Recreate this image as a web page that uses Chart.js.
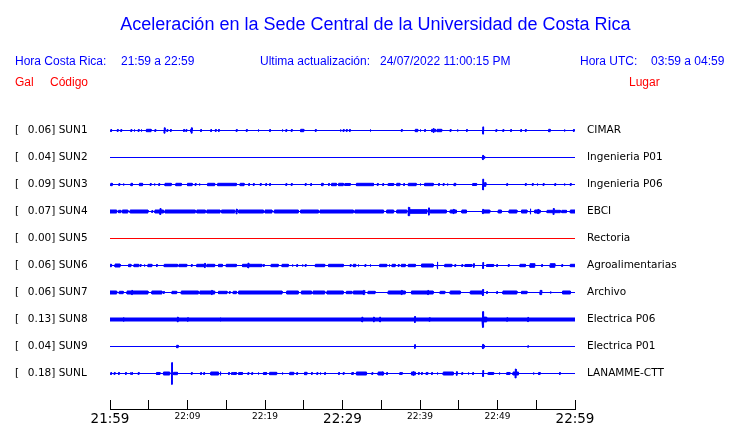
<!DOCTYPE html>
<html><head><meta charset="utf-8">
<script src="https://cdn.jsdelivr.net/npm/chart.js@4.4.0/dist/chart.umd.min.js"></script>
<style>
html,body{margin:0;padding:0;background:#fff;overflow:hidden}
#wrap{position:relative;width:740px;height:423px}
#c{position:absolute;left:0;top:0}
.t{position:absolute;white-space:pre;font-family:"Liberation Sans",Arial,sans-serif;font-size:12px;line-height:14px;color:#0000ff}
.red{color:#ff0000}
#title{left:0;width:751px;text-align:center;top:14px;font-size:18px;line-height:20px}
</style></head>
<body>
<div id="wrap">
<canvas id="c" width="740" height="423"></canvas>
<div class="t" id="title">Aceleración en la Sede Central de la Universidad de Costa Rica</div>
<div class="t" style="left:15px;top:54px">Hora Costa Rica:</div>
<div class="t" style="left:121px;top:54px">21:59 a 22:59</div>
<div class="t" style="left:260px;top:54px">Ultima actualización:</div>
<div class="t" style="left:380px;top:54px">24/07/2022 11:00:15 PM</div>
<div class="t" style="left:580px;top:54px">Hora UTC:</div>
<div class="t" style="left:651px;top:54px">03:59 a 04:59</div>
<div class="t red" style="left:15px;top:75px">Gal</div>
<div class="t red" style="left:50px;top:75px">Código</div>
<div class="t red" style="left:629px;top:75px">Lugar</div>
</div>
<script>
// ---- data ----
const codes = ['SUN1','SUN2','SUN3','SUN4','SUN5','SUN6','SUN7','SUN8','SUN9','SUNL'];
const places = ['CIMAR','Ingenieria P01','Ingenieria P06','EBCI','Rectoria','Agroalimentarias','Archivo','Electrica P06','Electrica P01','LANAMME-CTT'];
const peaks = [0.06,0.04,0.09,0.07,0.00,0.06,0.06,0.13,0.04,0.18]; // Gal
const timeLabels = ['21:59','22:09','22:19','22:29','22:39','22:49','22:59']; // every 10 min
// activity per trace: [minute, amplitude Gal] (short burst) or [start min, end min, amplitude Gal]
const SUN1 = [[0.1,.017],[0.95,.017],[1.4,.017],[2.7,.017],[3.1,.017],[3.65,.017],[4.0,.017],[4.7,5.3,.02],[5.8,.017],[7.0,.045],[7.35,.017],[7.8,.017],[9.5,.017],[9.8,.017],[10.4,10.6,.02],[10.5,.045],[11.7,.017],[13.0,.017],[13.6,.017],[14.0,.017],[16.3,.017],[17.6,.017],[19.1,.017],[20.6,.017],[22.2,.017],[22.7,.017],[23.4,.017],[24.6,25.0,.02],[26.5,.017],[29.7,.017],[30.1,.017],[30.5,.017],[30.9,.017],[33.55,.017],[37.6,.017],[39.4,39.7,.02],[40.0,.017],[40.6,.017],[41.5,42.0,.02],[41.7,.04],[42.2,42.8,.02],[43.9,.017],[44.8,.017],[46.0,.017],[48.1,.06],[49.8,.017],[50.7,.017],[51.7,.017],[53.0,.017],[53.6,.017],[56.6,56.8,.02],[58.6,.017],[59.8,.017]];
const SUN2 = [[48.0,48.35,.015],[48.1,.035]];
const SUN3 = [[0.1,0.3,.02],[1.15,.017],[1.7,.017],[2.7,2.9,.02],[3.8,4.2,.02],[5.2,.017],[5.7,.017],[6.3,.017],[7.1,7.9,.02],[8.5,9.2,.02],[10.0,10.6,.02],[11.0,.017],[11.5,.017],[12.6,13.5,.02],[13.9,16.3,.02],[16.8,17.3,.02],[17.9,.017],[18.5,.017],[19.4,.017],[20.1,.017],[20.6,.017],[22.7,.017],[23.4,.017],[25.2,.017],[25.9,.017],[27.3,27.5,.02],[28.2,.017],[28.6,29.2,.02],[29.5,30.1,.02],[30.3,31.0,.017],[31.8,34.0,.02],[34.5,.017],[35.2,.017],[35.9,36.6,.017],[37.0,37.4,.02],[37.9,.017],[38.5,39.5,.02],[40.0,.017],[40.6,41.7,.02],[42.4,.017],[43.0,.017],[43.5,.017],[44.4,44.6,.02],[46.8,47.3,.017],[48.1,.09],[48.3,48.5,.03],[51.2,.017],[53.6,.017],[54.5,.017],[55.1,.017],[55.9,.017],[57.4,.017],[58.6,.017],[59.4,.017]];
const SUN4 = [[0,0.86,.025],[1.1,1.4,.02],[1.6,2.3,.025],[2.6,4.9,.025],[5.4,.017],[5.8,6.9,.025],[6.45,.05],[7.1,11.0,.025],[11.2,12.3,.025],[12.5,14.2,.025],[14.4,16.1,.025],[16.3,.04],[16.6,19.8,.025],[20.0,20.9,.025],[21.2,24.3,.025],[24.6,26.9,.025],[27.1,31.4,.025],[31.6,35.3,.025],[35.7,36.6,.025],[37.0,38.3,.025],[38.5,.07],[38.7,40.9,.03],[41.1,.06],[41.3,43.4,.025],[43.9,44.7,.025],[44.3,.035],[45.4,46.0,.025],[48.0,49.0,.025],[48.1,.035],[50.1,50.5,.025],[51.5,52.5,.025],[53.1,53.8,.025],[54.2,.045],[54.8,55.5,.025],[55.2,.035],[56.4,58.1,.02],[57.2,.05],[58.3,58.9,.02],[59.4,60,.025]];
const SUN5 = [];
const SUN6 = [[0,0.2,.02],[0.65,1.3,.025],[2.4,2.7,.02],[3.1,3.7,.02],[3.9,.017],[4.4,.017],[4.9,5.4,.02],[6.0,.017],[7.0,8.7,.02],[8.9,9.9,.02],[10.5,.017],[11.2,12.3,.02],[12.2,.035],[12.5,13.5,.02],[14.0,14.5,.02],[15.0,16.3,.02],[17.1,19.6,.02],[17.8,.04],[19.8,.017],[20.8,21.7,.02],[22.2,23.0,.02],[23.5,.017],[24.1,.017],[24.8,.017],[25.2,.017],[26.5,27.7,.02],[28.2,30.1,.02],[31.0,.017],[31.4,31.7,.02],[32.0,.017],[32.9,.017],[33.55,.017],[34.8,35.7,.02],[36.0,.017],[36.4,36.8,.02],[37.2,.017],[37.6,38.1,.02],[38.5,39.4,.02],[40.2,41.7,.025],[42.2,.06],[43.2,44.1,.02],[44.5,.017],[45.4,.017],[45.8,46.7,.017],[46.9,.03],[48.1,.05],[48.6,49.5,.017],[49.9,.017],[51.4,.017],[52.9,53.6,.02],[54.2,54.8,.03],[55.7,.017],[56.8,57.4,.03],[58.3,.017],[59.4,60,.02]];
const SUN7 = [[0,0.86,.025],[1.2,1.7,.02],[2.2,4.9,.025],[2.8,.035],[5.4,6.7,.025],[6.9,.017],[8.0,8.6,.02],[9.2,11.4,.025],[11.6,13.5,.025],[13.1,.035],[14.0,15.1,.02],[15.4,.017],[15.9,16.3,.02],[16.6,22.2,.025],[22.8,24.3,.025],[24.7,26.0,.025],[26.2,27.7,.025],[28.0,30.1,.025],[30.5,31.2,.02],[31.4,32.9,.025],[32.7,.035],[33.3,34.2,.02],[35.9,38.1,.025],[37.6,.035],[38.9,41.7,.025],[41.0,.035],[42.6,43.2,.02],[43.9,45.2,.025],[46.5,48.0,.025],[48.1,.05],[48.6,.017],[49.9,.017],[50.7,52.5,.025],[53.1,53.8,.02],[55.5,55.7,.035],[56.8,.017],[58.4,59.4,.025]];
const SUN8 = [[0,60,.025],[1.7,.035],[8.7,.04],[10.0,.03],[14.2,.03],[32.5,.04],[34.0,.04],[34.8,.04],[39.3,.05],[41.2,.03],[48.0,48.6,.04],[48.1,.13],[51.2,.03],[53.9,.035]];
const SUN9 = [[8.6,8.8,.02],[39.3,.03],[48.0,48.3,.02],[48.1,.035],[53.9,.012]];
const SUNL = [[0.1,.017],[0.55,.017],[1.1,.017],[2.0,.017],[2.6,.017],[2.8,.017],[3.65,.017],[6.0,6.45,.017],[6.9,7.7,.025],[7.95,.18],[8.2,8.7,.02],[10.5,.017],[11.7,.017],[12.1,.017],[13.0,14.0,.025],[14.2,.03],[15.3,.017],[15.7,.017],[15.9,16.3,.017],[16.6,17.1,.017],[17.8,.017],[18.3,.017],[19.1,.017],[19.8,20.2,.017],[20.6,21.5,.02],[22.2,.017],[23.2,23.7,.02],[24.1,.017],[25.1,25.4,.02],[26.0,.017],[26.7,.017],[27.1,.017],[27.7,.017],[29.5,.017],[30.1,.017],[31.2,31.4,.017],[31.8,33.1,.025],[33.8,.017],[34.6,35.3,.025],[35.1,.03],[35.7,.017],[37.4,.017],[37.6,.017],[38.9,39.4,.025],[39.1,.035],[39.8,.017],[40.2,.017],[40.8,41.0,.017],[41.5,.017],[42.2,.017],[43.0,44.3,.025],[44.7,.03],[45.4,.017],[46.2,.017],[46.8,.017],[48.1,.05],[48.8,49.5,.017],[50.2,.017],[51.2,51.6,.017],[52.0,52.7,.025],[52.3,.075],[54.6,.017],[55.3,55.5,.017],[58.0,.017]];
const traces = [SUN1,SUN2,SUN3,SUN4,SUN5,SUN6,SUN7,SUN8,SUN9,SUNL];

// ---- build ----
const SPAN = 60, ROW = 0.45, BURST = 0.1;
function envelope(list){
  const ps = list.map(p => p.length === 2 ? [p[0], p[0] + BURST, p[1]] : p);
  const set = new Set([0, SPAN]);
  ps.forEach(p => { set.add(p[0]); set.add(p[1]); });
  const xs = [...set].sort((a,b)=>a-b);
  const out = []; let prev = null;
  for (let j = 0; j < xs.length - 1; j++) {
    const m = (xs[j] + xs[j+1]) / 2;
    let a = 0;
    for (const p of ps) if (p[0] <= m && m < p[1]) a = Math.max(a, p[2]);
    if (a !== prev) { if (prev !== null) out.push([xs[j], prev]); out.push([xs[j], a]); prev = a; }
  }
  out.push([SPAN, prev]);
  return out;
}
const datasets = [];
traces.forEach((tr, i) => {
  const base = ROW * (i + 1);
  const col = peaks[i] === 0 ? '#ff0000' : '#0000ff';
  const env = envelope(tr);
  datasets.push({
    data: env.map(([x, a]) => ({x, y: base - a})),
    borderColor: col, backgroundColor: col, borderWidth: 1,
    pointRadius: 0, tension: 0, fill: '+1', yAxisID: 'y'
  });
  datasets.push({
    data: env.map(([x, a]) => ({x, y: base + a})),
    borderColor: col, backgroundColor: col, borderWidth: 1,
    pointRadius: 0, tension: 0, fill: false, yAxisID: 'y'
  });
});
const rowTicks = s => { s.ticks = codes.map((_, i) => ({value: ROW * (i + 1)})); };
const yBase = {type:'linear', reverse:true, min:-1/120, max:5.1 - 1/120, border:{display:false}};
new Chart(document.getElementById('c'), {
  type: 'line',
  data: {datasets},
  options: {
    responsive:false, animation:false, devicePixelRatio:1,
    layout:{padding:{top:103, left:15, right:0, bottom:0}},
    plugins:{legend:{display:false}, tooltip:{enabled:false}},
    scales:{
      x:{type:'linear', position:'bottom', min:0, max:SPAN,
         grid:{drawOnChartArea:false, drawTicks:true, tickLength:-9, color:'#000', tickColor:'#000', lineWidth:1},
         border:{display:true, color:'#000', width:1},
         ticks:{stepSize:5, autoSkip:false, maxRotation:0, padding:11, color:'#000',
           font: ctx => ({family:'"DejaVu Sans"', size: (ctx.tick && ctx.tick.value % 30 === 0) ? 13.5 : 9}),
           callback: v => v % 10 === 0 ? timeLabels[v / 10] : ''},
         afterFit: s => { s.height = 14; }},
      y:Object.assign({}, yBase, {position:'left', grid:{display:false, drawTicks:false},
         ticks:{autoSkip:false, crossAlign:'far', padding:0, color:'#000', font:{family:'"DejaVu Sans"', size:10.5},
           callback: (v, i) => '[  \u2009' + peaks[i].toFixed(2) + '] ' + codes[i]},
         afterBuildTicks: rowTicks, afterFit: s => { s.width = 95; }}),
      y2:Object.assign({}, yBase, {position:'right', grid:{display:false, drawTicks:true, tickLength:12},
         ticks:{autoSkip:false, crossAlign:'near', padding:0, color:'#000', font:{family:'"DejaVu Sans"', size:10.5},
           callback: (v, i) => places[i]},
         afterBuildTicks: rowTicks, afterFit: s => { s.width = 165; }})
    }
  }
});
</script>
</body></html>
